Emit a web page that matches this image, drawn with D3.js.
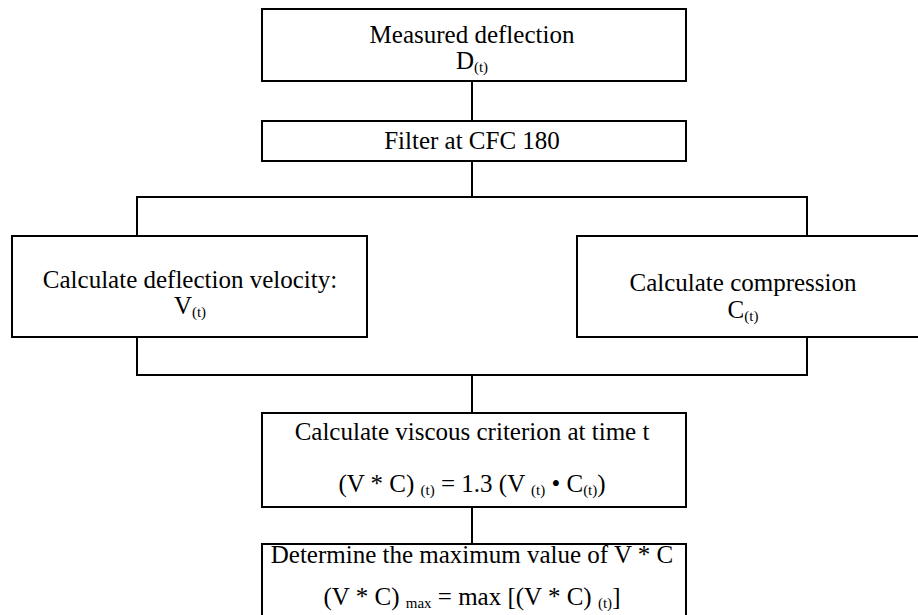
<!DOCTYPE html>
<html>
<head>
<meta charset="utf-8">
<script src="https://cdn.jsdelivr.net/npm/d3@7"></script>
<style>
  body { margin: 0; background: #fff; }
  svg { display: block; }
  text { font-family: "Liberation Serif", "Times New Roman", serif; fill: #000; }
</style>
</head>
<body>
<script>
// node ids and their text lines; each line is a list of [text, isSubscript]
var nodeIds = ["measured", "filter", "velocity", "compression", "viscous", "maximum"];

var nodeLines = [
  [[["Measured deflection", 0]], [["D", 0], ["(t)", 1]]],
  [[["Filter at CFC 180", 0]]],
  [[["Calculate deflection velocity:", 0]], [["V", 0], ["(t)", 1]]],
  [[["Calculate compression", 0]], [["C", 0], ["(t)", 1]]],
  [[["Calculate viscous criterion at time t", 0]],
   [["(V * C) ", 0], ["(t)", 1], [" = 1.3 (V ", 0], ["(t)", 1], [" \u2022 C", 0], ["(t)", 1], [")", 0]]],
  [[["Determine the maximum value of V * C", 0]],
   [["(V * C) ", 0], ["max", 1], [" = max [(V * C) ", 0], ["(t)", 1], ["]", 0]]]
];

// connections: [from, to]
var links = [
  ["measured", "filter"],
  ["filter", "velocity"],
  ["filter", "compression"],
  ["velocity", "viscous"],
  ["compression", "viscous"],
  ["viscous", "maximum"]
];

var svgWidth = 918;
var svgHeight = 615;

// layout of the boxes (pixels)
var layout = {
  measured:    { x0: 262, x1: 686, y0: 9,   y1: 81,  tx: 472, base: [43, 69] },
  filter:      { x0: 262, x1: 686, y0: 121, y1: 161, tx: 472, base: [149] },
  velocity:    { x0: 12,  x1: 367, y0: 236, y1: 337, tx: 190, base: [288, 314] },
  compression: { x0: 577, x1: 925, y0: 236, y1: 337, tx: 743, base: [291, 318] },
  viscous:     { x0: 262, x1: 686, y0: 413, y1: 507, tx: 472, base: [440, 492] },
  maximum:     { x0: 262, x1: 686, y0: 544, y1: 630, tx: 472, base: [563, 605] }
};

var trunkX = 472;
var branchX = { velocity: 137, compression: 807 };
var splitY = 197;
var joinY = 375;

var svg = d3.select("body")
  .append("svg")
  .attr("width", svgWidth)
  .attr("height", svgHeight);

var nodes = nodeIds.map(function(id, i) {
  return { id: id, lines: nodeLines[i], box: layout[id] };
});

// connector lines
var linkGroup = svg.append("g")
  .attr("fill", "none")
  .attr("stroke", "#000")
  .attr("stroke-width", 2);

var line = d3.line();

links.forEach(function(l) {
  var a = layout[l[0]], b = layout[l[1]];
  var pts;
  if (branchX[l[1]]) {
    // split from trunk into a branch
    pts = [[trunkX, a.y1], [trunkX, splitY], [branchX[l[1]], splitY], [branchX[l[1]], b.y0]];
  } else if (branchX[l[0]]) {
    // branch joins back into trunk
    pts = [[branchX[l[0]], a.y1], [branchX[l[0]], joinY], [trunkX, joinY], [trunkX, b.y0]];
  } else {
    pts = [[trunkX, a.y1], [trunkX, b.y0]];
  }
  linkGroup.append("path").attr("d", line(pts));
});

// boxes
var nodeGroup = svg.selectAll("g.node")
  .data(nodes)
  .enter()
  .append("g")
  .attr("class", "node");

nodeGroup.append("rect")
  .attr("x", function(d) { return d.box.x0; })
  .attr("y", function(d) { return d.box.y0; })
  .attr("width", function(d) { return d.box.x1 - d.box.x0; })
  .attr("height", function(d) { return d.box.y1 - d.box.y0; })
  .attr("fill", "#fff")
  .attr("stroke", "#000")
  .attr("stroke-width", 2);

// labels with subscripts
nodeGroup.each(function(d) {
  var g = d3.select(this);
  d.lines.forEach(function(segs, li) {
    var t = g.append("text")
      .attr("x", d.box.tx)
      .attr("y", d.box.base[li])
      .attr("text-anchor", "middle")
      .style("font-size", "25px")
      .attr("xml:space", "preserve");
    var wasSub = false;
    segs.forEach(function(s) {
      var sp = t.append("tspan").text(s[0]);
      if (s[1] && !wasSub) sp.attr("dy", 3).style("font-size", "15px");
      else if (s[1]) sp.style("font-size", "15px");
      else if (wasSub) sp.attr("dy", -3);
      wasSub = !!s[1];
    });
  });
});
</script>
</body>
</html>
